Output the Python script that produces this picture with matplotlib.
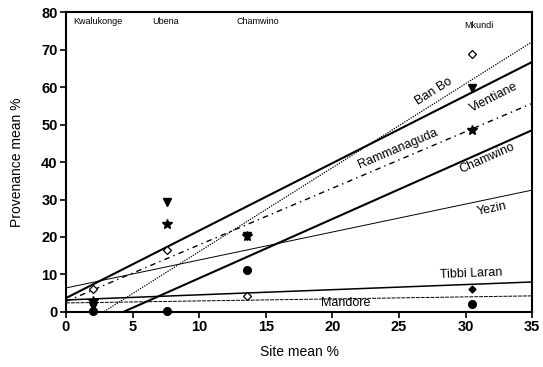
import matplotlib
matplotlib.use("Agg")
import matplotlib.pyplot as plt
import numpy as np

plt.rcParams['font.family'] = ['Liberation Sans', 'DejaVu Sans']

# site means (x) and site names shown on top
site_x = [2.0, 7.6, 13.6, 30.5]
site_names = ["Kwalukonge", "Ubena", "Chamwino", "Mkundi"]

# provenance means
banbo_y = [6.1, 16.5, 4.3, 68.8]
vientiane_y = [1.5, 29.3, 20.3, 59.7]
ramma_y = [3.0, 23.5, 20.3, 48.5]
chamwino_y = [0.3, 0.3, 11.2, 2.1]
tibbi_x = [30.5]
tibbi_y = [6.1]

# regression lines: name, intercept, slope
line_names = ["Ban Bo", "Vientiane", "Rammanaguda", "Chamwino", "Yezin", "Tibbi Laran", "Mandore"]
line_icpt = [-6.3, 3.7, 2.8, -6.8, 6.4, 3.2, 2.4]
line_slope = [2.24, 1.80, 1.51, 1.58, 0.746, 0.137, 0.054]

fig = plt.figure(figsize=(5.43, 3.67), dpi=100)
ax = fig.add_axes([0.1215, 0.150, 0.8585, 0.817])

styles = [
    dict(ls=(0, (1, 1)), lw=0.9),
    dict(ls="-", lw=1.5),
    dict(ls=(0, (4, 3, 1, 3)), lw=1.0),
    dict(ls="-", lw=1.5),
    dict(ls="-", lw=0.7),
    dict(ls="-", lw=1.1),
    dict(ls=(0, (4, 1)), lw=0.7),
]
xx = np.array([0, 35])
for name, b, m, st in zip(line_names, line_icpt, line_slope, styles):
    ax.plot(xx, b + m * xx, color="k", **st)

ax.plot(site_x, banbo_y, "D", ms=4, mfc="white", mec="k", mew=0.9, clip_on=False, zorder=5)
ax.plot(site_x, vientiane_y, "v", ms=6, color="k", clip_on=False, zorder=5)
ax.plot(site_x, ramma_y, "*", ms=7, color="k", clip_on=False, zorder=5)
ax.plot(site_x, chamwino_y, "o", ms=5.5, color="k", clip_on=False, zorder=5)
ax.plot(tibbi_x, tibbi_y, "D", ms=3.5, color="k", zorder=5)

# line labels: x, y, slope to follow (data units)
lab_pos = {
    "Ban Bo": (27.6, 58.8, 2.24),
    "Vientiane": (32.1, 57.2, 1.80),
    "Rammanaguda": (24.9, 43.6, 1.51),
    "Chamwino": (31.6, 41.0, 1.58),
    "Yezin": (32.0, 27.5, 0.746),
    "Tibbi Laran": (30.4, 10.2, 0.137),
    "Mandore": (21.0, 2.5, 0.0),
}
for name, (lx, ly, m) in lab_pos.items():
    ax.text(lx, ly, name, fontsize=9, rotation=np.degrees(np.arctan(m)),
            transform_rotates_text=True, ha="center", va="center",
            rotation_mode="anchor")

site_lab_x = [2.4, 7.5, 14.4, 31.0]
site_lab_y = [77.5, 77.5, 77.5, 76.5]
for sx, sy, sn in zip(site_lab_x, site_lab_y, site_names):
    ax.text(sx, sy, sn, fontsize=6.5, ha="center", va="center")

ax.set_xlim(0, 35)
ax.set_ylim(0, 80)
ax.set_xticks(np.arange(0, 36, 5))
ax.set_yticks(np.arange(0, 81, 10))
for lbl in ax.get_xticklabels() + ax.get_yticklabels():
    lbl.set_fontweight("bold")
    lbl.set_fontsize(10.5)
ax.tick_params(direction="out", length=4, width=1.2, pad=2)
for sp in ax.spines.values():
    sp.set_linewidth(1.5)
ax.set_xlabel("Site mean %", fontsize=10, labelpad=8)
ax.set_ylabel("Provenance mean %", fontsize=10, labelpad=12)

fig.savefig("out.png", dpi=100)
